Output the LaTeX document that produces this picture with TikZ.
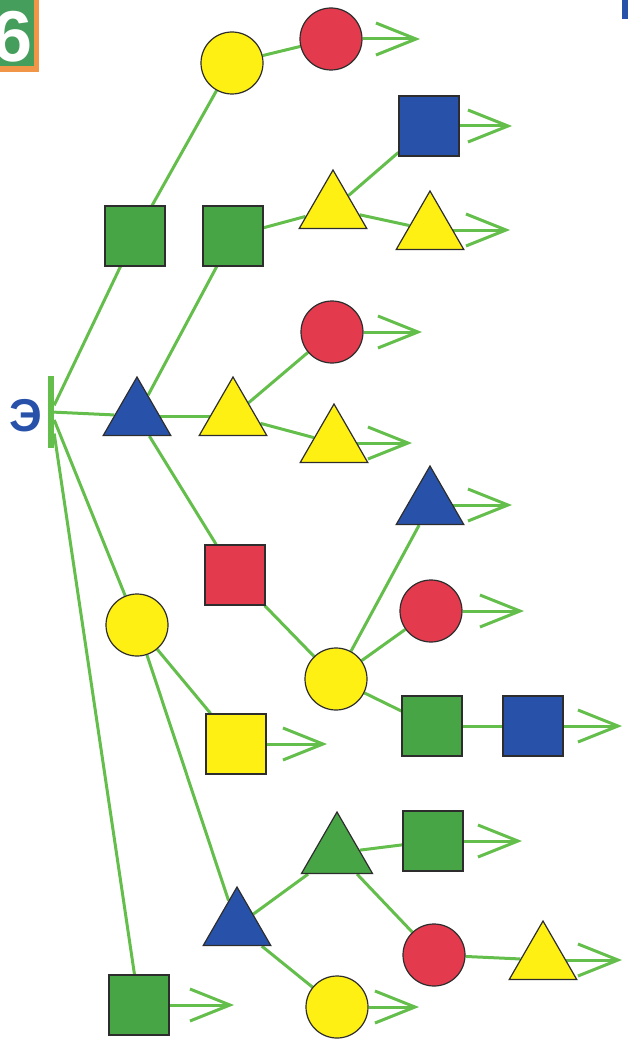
\documentclass[tikz,border=0pt]{standalone}
\usepackage{fontspec}
\newfontfamily\labelfont{Liberation Sans}
\usetikzlibrary{arrows.meta,shapes.geometric,backgrounds}

\definecolor{lgrn}{RGB}{100,190,75}
\definecolor{grn}{RGB}{72,165,70}
\definecolor{yel}{RGB}{255,240,20}
\definecolor{rd}{RGB}{228,58,78}
\definecolor{blu}{RGB}{40,82,170}
\definecolor{outl}{RGB}{45,45,45}
\definecolor{badgegrn}{RGB}{70,158,92}
\definecolor{orng}{RGB}{240,150,70}

\begin{document}
\begin{tikzpicture}[x=1pt, y=-1pt,
    circ/.style={circle, draw=outl, line width=1.2pt, minimum size=62pt, inner sep=0pt},
    sq/.style={rectangle, draw=outl, line width=1.2pt, minimum size=60pt, inner sep=0pt},
    tri/.style={regular polygon, regular polygon sides=3, draw=outl, line width=1.2pt, minimum size=78pt, inner sep=0pt},
    link/.style={draw=lgrn, line width=3pt},
    arr/.style={link, -{Straight Barb[length=40pt, width=32pt]}}
]
\useasboundingbox (0,0) rectangle (627,1046);

% badge and corner mark
\fill[orng] (-5,-5) rectangle (39,72);
\fill[badgegrn] (-5,-5) rectangle (34,66);
\node[anchor=east, inner sep=0pt, text=white, font=\labelfont\bfseries\fontsize{72}{72}\selectfont] (six) at (33,37) {6};
\fill[blu] (622,-2) rectangle (630,19);

% start
\node[fill=lgrn, minimum width=6pt, minimum height=72pt, inner sep=0pt] (bar) at (51,412) {};
\node[text=blu, font=\labelfont\bfseries\fontsize{46}{46}\selectfont] (lbl) at (26,416) {Э};

% upper branch
\node[sq, fill=grn] (gs1) at (135,236) {};
\node[circ, fill=yel] (yc1) at (232,63) {};
\node[circ, fill=rd] (rc1) at (331,39) {};

% middle branch
\node[tri, fill=blu] (bt1) at (137,416) {};
\node[sq, fill=grn] (gs2) at (233,236) {};
\node[tri, fill=yel] (yt1) at (333,209) {};
\node[sq, fill=blu] (bs1) at (429,126) {};
\node[tri, fill=yel] (yt2) at (430,230) {};
\node[tri, fill=yel] (yt3) at (233,416) {};
\node[circ, fill=rd] (rc2) at (332,332) {};
\node[tri, fill=yel] (yt4) at (334,443) {};
\node[sq, fill=rd] (rs1) at (235,575) {};
\node[circ, fill=yel] (yc3) at (336,679) {};
\node[tri, fill=blu] (bt2) at (430,505) {};
\node[circ, fill=rd] (rc3) at (431,611) {};
\node[sq, fill=grn] (gs3) at (432,726) {};
\node[sq, fill=blu] (bs2) at (533,726) {};

% lower branch
\node[circ, fill=yel] (yc2) at (137,625) {};
\node[sq, fill=yel] (ys1) at (236,744) {};
\node[tri, fill=blu] (bt3) at (237,926) {};
\node[tri, fill=grn, minimum size=82pt] (gt1) at (337,853) {};
\node[sq, fill=grn] (gs4) at (433,841) {};
\node[circ, fill=rd] (rc4) at (434,955) {};
\node[tri, fill=yel] (yt5) at (543,960) {};
\node[circ, fill=yel] (yc4) at (337,1007) {};
\node[sq, fill=grn] (gs5) at (139,1005) {};

% arrow ends
\coordinate (a1) at (420,39);
\coordinate (a2) at (512,126);
\coordinate (a3) at (510,230);
\coordinate (a4) at (422,332);
\coordinate (a5) at (412,443);
\coordinate (a6) at (512,505);
\coordinate (a7) at (524,611);
\coordinate (a8) at (622,726);
\coordinate (a9) at (327,744);
\coordinate (a10) at (522,841);
\coordinate (a11) at (622,960);
\coordinate (a12) at (234,1005);
\coordinate (a13) at (419,1007);

\begin{scope}[on background layer]
\draw[link] (bar) -- (gs1);
\draw[link] (bar) -- (bt1);
\draw[link] (bar) -- (yc2);
\draw[link] (bar) -- (gs5);
\draw[link] (gs1) -- (yc1);
\draw[link] (yc1) -- (rc1);
\draw[link] (bt1) -- (gs2);
\draw[link] (gs2) -- (yt1);
\draw[link] (yt1) -- (bs1);
\draw[link] (yt1) -- (yt2);
\draw[link] (bt1) -- (yt3);
\draw[link] (yt3) -- (rc2);
\draw[link] (yt3) -- (yt4);
\draw[link] (bt1) -- (rs1);
\draw[link] (rs1) -- (yc3);
\draw[link] (yc3) -- (bt2);
\draw[link] (yc3) -- (rc3);
\draw[link] (yc3) -- (gs3);
\draw[link] (gs3) -- (bs2);
\draw[link] (yc2) -- (ys1);
\draw[link] (yc2) -- (bt3);
\draw[link] (bt3) -- (gt1);
\draw[link] (bt3) -- (yc4);
\draw[link] (gt1) -- (gs4);
\draw[link] (gt1) -- (rc4);
\draw[link] (rc4) -- (yt5);

\draw[arr] (rc1) -- (a1);
\draw[arr] (bs1) -- (a2);
\draw[arr] (yt2) -- (a3);
\draw[arr] (rc2) -- (a4);
\draw[arr] (yt4) -- (a5);
\draw[arr] (bt2) -- (a6);
\draw[arr] (rc3) -- (a7);
\draw[arr] (bs2) -- (a8);
\draw[arr] (ys1) -- (a9);
\draw[arr] (gs4) -- (a10);
\draw[arr] (yt5) -- (a11);
\draw[arr] (gs5) -- (a12);
\draw[arr] (yc4) -- (a13);
\end{scope}
\end{tikzpicture}
\end{document}
